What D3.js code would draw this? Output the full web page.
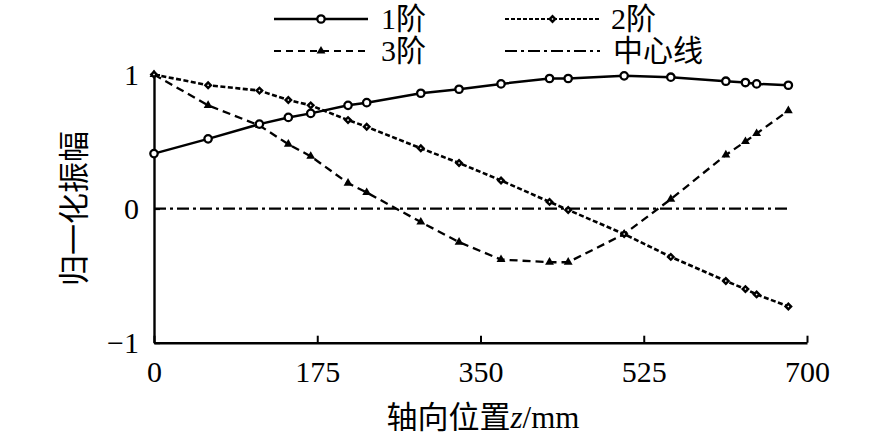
<!DOCTYPE html>
<html>
<head>
<meta charset="utf-8">
<script src="https://cdn.jsdelivr.net/npm/d3@7"></script>
<style>
  html, body { margin: 0; padding: 0; background: #fff; }
  svg { display: block; }
  text { font-family: "Liberation Serif", "Noto Sans CJK SC", serif; fill: #000; }
</style>
</head>
<body>
<svg id="chart" width="886" height="439"></svg>
<script>
// ---- data ----
const positions = [0, 58, 113, 144, 168, 208, 228, 286, 327, 372, 424, 444, 504, 554, 613, 634, 646, 680];
const mode1 = [0.41, 0.52, 0.63, 0.68, 0.71, 0.77, 0.79, 0.86, 0.89, 0.93, 0.97, 0.97, 0.99, 0.98, 0.95, 0.94, 0.93, 0.92];
const mode2 = [1.00, 0.92, 0.88, 0.81, 0.77, 0.66, 0.61, 0.45, 0.34, 0.21, 0.05, -0.01, -0.19, -0.36, -0.54, -0.60, -0.64, -0.73];
const mode3 = [1.00, 0.77, 0.62, 0.48, 0.39, 0.19, 0.12, -0.10, -0.25, -0.38, -0.40, -0.40, -0.19, 0.07, 0.40, 0.50, 0.56, 0.73];
const xTicks = [0, 175, 350, 525, 700];
const yTicks = [-1, 0, 1];
const seriesNames = ["1阶", "2阶", "3阶", "中心线"];
const xTitle = "轴向位置";
const xTitleVar = "z";
const xTitleUnit = "/mm";
const yTitle = "归一化振幅";

const svg = d3.select("#chart");
const x = d3.scaleLinear().domain([0, 700]).range([154, 807]);
const y = d3.scaleLinear().domain([-1, 1]).range([342.7, 74.5]);

// axes
const gx = svg.append("g").attr("transform", `translate(0,${y(-1)})`)
  .call(d3.axisBottom(x).tickValues(xTicks).tickSizeInner(-7).tickSizeOuter(0).tickPadding(18).tickFormat(d3.format("d")));
const gy = svg.append("g").attr("transform", `translate(${x(0)},0)`)
  .call(d3.axisLeft(y).tickValues(yTicks).tickSizeInner(-6).tickSizeOuter(0).tickPadding(15).tickFormat(d3.format("d")));
[gx, gy].forEach(g => {
  g.select(".domain").attr("stroke", "#000").attr("stroke-width", 2.4);
  g.selectAll(".tick line").attr("stroke", "#000").attr("stroke-width", 2);
  g.selectAll(".tick text").attr("font-size", 30).attr("font-family", "Liberation Serif, serif").attr("fill", "#000");
});

// centre line
const zeroExt = [0, d3.max(positions)];
svg.append("line")
  .attr("x1", x(zeroExt[0])).attr("x2", x(zeroExt[1]))
  .attr("y1", y(0)).attr("y2", y(0))
  .attr("stroke", "#000").attr("stroke-width", 2.2)
  .attr("stroke-dasharray", "12,4,3,4");

const line = vals => d3.line().x((d, i) => x(positions[i])).y(d => y(d))(vals);

// series 3 (triangles, long dashes)
svg.append("path").attr("d", line(mode3)).attr("fill", "none")
  .attr("stroke", "#000").attr("stroke-width", 2.3).attr("stroke-dasharray", "8,5");
// series 2 (diamonds, short dashes)
svg.append("path").attr("d", line(mode2)).attr("fill", "none")
  .attr("stroke", "#000").attr("stroke-width", 2.6).attr("stroke-dasharray", "5,2.5");
// series 1 (circles, solid)
svg.append("path").attr("d", line(mode1)).attr("fill", "none")
  .attr("stroke", "#000").attr("stroke-width", 2.5);

const tri = d3.symbol().type(d3.symbolTriangle).size(34);
const dia = d3.symbol().type(d3.symbolSquare).size(15);

svg.append("g").selectAll("path").data(mode3).join("path")
  .attr("d", tri).attr("transform", (d, i) => `translate(${x(positions[i])},${y(d)})`)
  .attr("fill", "#000");
svg.append("g").selectAll("path").data(mode2).join("path")
  .attr("d", dia).attr("transform", (d, i) => `translate(${x(positions[i])},${y(d)}) rotate(45)`)
  .attr("fill", "#fff").attr("stroke", "#000").attr("stroke-width", 2.4);
svg.append("g").selectAll("circle").data(mode1).join("circle")
  .attr("cx", (d, i) => x(positions[i])).attr("cy", d => y(d)).attr("r", 3.7)
  .attr("fill", "#fff").attr("stroke", "#000").attr("stroke-width", 2.3);

// legend
const leg = svg.append("g");
const items = [
  {name: seriesNames[0], x0: 274, x1: 368, ty: 19, dash: null, mark: "circle", tx: 381},
  {name: seriesNames[1], x0: 505, x1: 600, ty: 19, dash: "4,2", mark: "diamond", tx: 611},
  {name: seriesNames[2], x0: 274, x1: 368, ty: 51, dash: "7,5", mark: "triangle", tx: 381},
  {name: seriesNames[3], x0: 505, x1: 600, ty: 51, dash: "12,4,3,4", mark: null, tx: 613}
];
items.forEach(it => {
  leg.append("line").attr("x1", it.x0).attr("x2", it.x1).attr("y1", it.ty).attr("y2", it.ty)
    .attr("stroke", "#000").attr("stroke-width", it.dash ? 2 : 2.5)
    .attr("stroke-dasharray", it.dash);
  const cx = (it.x0 + it.x1) / 2;
  if (it.mark === "circle") {
    leg.append("circle").attr("cx", cx).attr("cy", it.ty).attr("r", 3.7)
      .attr("fill", "#fff").attr("stroke", "#000").attr("stroke-width", 2.3);
  } else if (it.mark === "diamond") {
    leg.append("path").attr("d", dia).attr("transform", `translate(${cx},${it.ty}) rotate(45)`)
      .attr("fill", "#fff").attr("stroke", "#000").attr("stroke-width", 2.4);
  } else if (it.mark === "triangle") {
    leg.append("path").attr("d", tri).attr("transform", `translate(${cx},${it.ty})`)
      .attr("fill", "#000");
  }
  leg.append("text").attr("x", it.tx).attr("y", it.ty + 10).attr("font-size", 30).text(it.name);
});

// axis titles
const xt = svg.append("text").attr("x", 483).attr("y", 428).attr("text-anchor", "middle").attr("font-size", 31);
xt.append("tspan").text(xTitle);
xt.append("tspan").attr("font-style", "italic").text(xTitleVar);
xt.append("tspan").text(xTitleUnit);

svg.append("text").attr("transform", "translate(85,208.5) rotate(-90)")
  .attr("text-anchor", "middle").attr("font-size", 31).text(yTitle);
</script>
</body>
</html>
